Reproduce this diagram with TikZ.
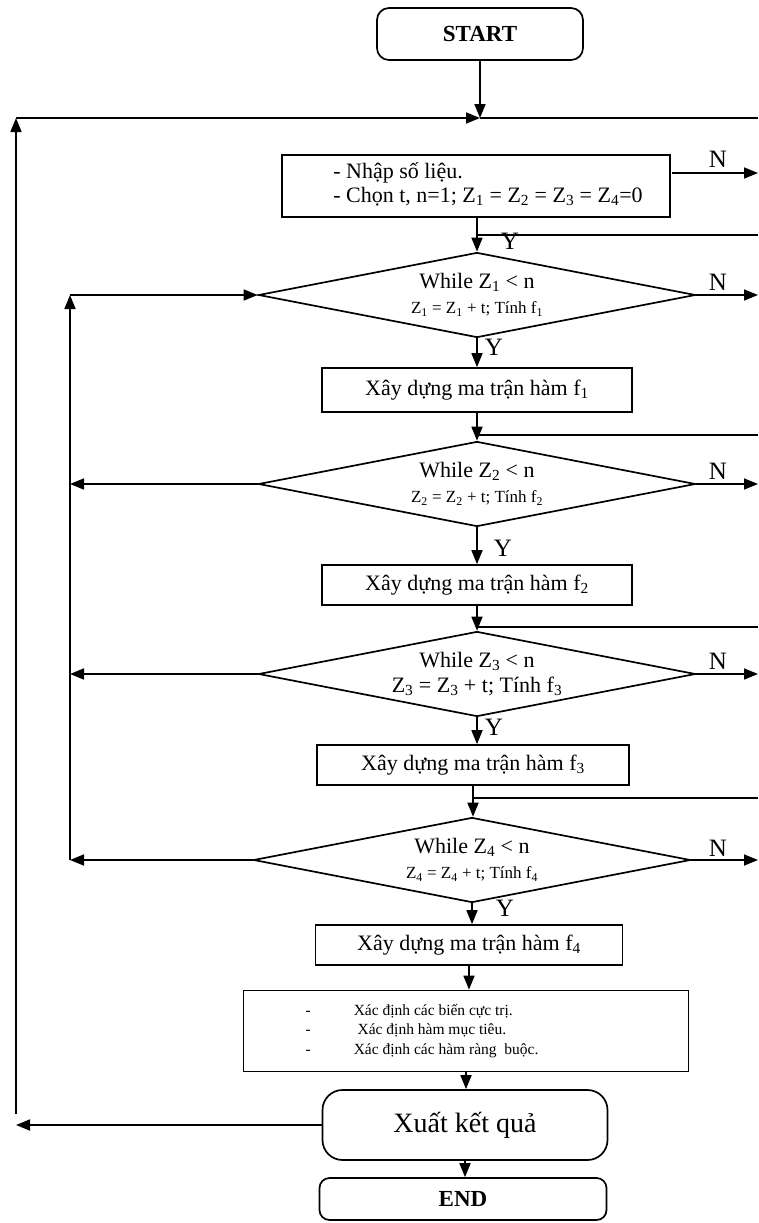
\documentclass[tikz,border=0pt]{standalone}
\usepackage{fontspec}
\setmainfont{Liberation Serif}
\usetikzlibrary{shapes.geometric,arrows.meta}
\tikzset{
  box/.style={draw, line width=1.7pt, inner sep=0pt, font=\fontsize{22}{24}\selectfont},
  term/.style={box, rounded corners=12pt},
  cond/.style={draw, diamond, line width=1.7pt, aspect=5, inner sep=0pt,
    minimum width=437pt, minimum height=85pt, align=center,
    font=\fontsize{22}{25}\selectfont},
  arr/.style={line width=1.7pt, -{Triangle[length=14pt,width=11pt]}},
  ln/.style={line width=1.7pt},
  lbl/.style={font=\fontsize{25}{25}\selectfont, inner sep=1pt},
}
\begin{document}
\begin{tikzpicture}[x=1pt,y=-1pt]
  \useasboundingbox (0,0) rectangle (758,1223);
  % Boxes of the main column
  \node[term, minimum width=206pt, minimum height=52pt] (start) at (480,34) {\fontsize{23}{23}\selectfont\bfseries START};
  \node[box, minimum width=388pt, minimum height=62pt] (input) at (476,186)
    {\hspace{24pt}\begin{tabular}{@{}l@{}}- Nhập số liệu.\\- Chọn t, n=1; Z\textsubscript{1} = Z\textsubscript{2} = Z\textsubscript{3} = Z\textsubscript{4}=0\end{tabular}};
  \node[cond] (while1) at (477,295)
    {While Z\textsubscript{1} < n\\{\fontsize{17}{17}\selectfont Z\textsubscript{1} = Z\textsubscript{1} + t; Tính f\textsubscript{1}}};
  \node[box, minimum width=310pt, minimum height=44pt] (build1) at (477,390) {Xây dựng ma trận hàm f\textsubscript{1}};
  \node[cond] (while2) at (477,484)
    {While Z\textsubscript{2} < n\\{\fontsize{17}{17}\selectfont Z\textsubscript{2} = Z\textsubscript{2} + t; Tính f\textsubscript{2}}};
  \node[box, minimum width=310pt, minimum height=40pt] (build2) at (477,585) {Xây dựng ma trận hàm f\textsubscript{2}};
  \node[cond] (while3) at (477,674)
    {While Z\textsubscript{3} < n\\Z\textsubscript{3} = Z\textsubscript{3} + t; Tính f\textsubscript{3}};
  \node[box, minimum width=312pt, minimum height=40pt] (build3) at (473,765) {Xây dựng ma trận hàm f\textsubscript{3}};
  \node[cond] (while4) at (472,860)
    {While Z\textsubscript{4} < n\\{\fontsize{17}{17}\selectfont Z\textsubscript{4} = Z\textsubscript{4} + t; Tính f\textsubscript{4}}};
  \node[box, minimum width=307pt, minimum height=40pt] (build4) at (469,945) {Xây dựng ma trận hàm f\textsubscript{4}};
  \node[box, minimum width=445pt, minimum height=81pt, font=\fontsize{15.5}{19.5}\selectfont] (define) at (466,1031)
    {\begin{tabular}{@{}l@{\hspace{43pt}}l@{}}-& Xác định các biến cực trị.\\-& \ Xác định hàm mục tiêu.\\-& Xác định các hàm ràng\ \ buộc.\end{tabular}\hspace{88pt}\mbox{}};
  \node[term, rounded corners=20pt, minimum width=285pt, minimum height=70pt] (output) at (465,1125) {\fontsize{28}{28}\selectfont Xuất kết quả};
  \node[term, rounded corners=10pt, minimum width=287pt, minimum height=42pt] (end) at (463,1199) {\fontsize{23}{23}\selectfont\bfseries END};
  % Corner points
  \coordinate (edge) at (758,0);
  \coordinate (top) at (480,118);
  \coordinate (outerTop) at (16,118);
  \coordinate (outerLow) at (16,1114);
  \coordinate (outerBot) at (16,1125);
  \coordinate (innerTop) at (70,295);
  \coordinate (inN) at (672,173);
  % Main column
  \draw[arr] (start) -- (top);
  \draw[ln] (top) -- (top -| edge);
  \draw[arr] (while1.north |- input.south) -- (while1.north);
  \draw[arr] (while1.south) -- (while1.south |- build1.north);
  \draw[arr] (build1.south) -- (build1.south |- while2.north);
  \draw[arr] (while2.south) -- (while2.south |- build2.north);
  \draw[arr] (build2.south) -- (build2.south |- while3.north);
  \draw[arr] (while3.south) -- (while3.south |- build3.north);
  \draw[arr] (build3.south) -- (build3.south |- while4.north);
  \draw[arr] (while4.south) -- (while4.south |- build4.north);
  \draw[arr] (build4.south) -- (build4.south |- define.north);
  \draw[arr] (define.south) -- (define.south |- output.north);
  \draw[arr] (output.south) -- (output.south |- end.north);
  % Lines coming back from the right
  \draw[ln] (while1.north |- 0,235) -- (edge |- 0,235);
  \draw[ln] (build1.south |- 0,435) -- (edge |- 0,435);
  \draw[ln] (build2.south |- 0,627) -- (edge |- 0,627);
  \draw[ln] (build3.south |- 0,798) -- (edge |- 0,798);
  % N exits
  \draw[arr] (inN) -- (inN -| edge);
  \draw[arr] (while1.east) -- (while1.east -| edge);
  \draw[arr] (while2.east) -- (while2.east -| edge);
  \draw[arr] (while3.east) -- (while3.east -| edge);
  \draw[arr] (while4.east) -- (while4.east -| edge);
  \node[lbl] (n0) at (718,159) {N};
  \node[lbl] (n1) at (718,282) {N};
  \node[lbl] (n2) at (718,471) {N};
  \node[lbl] (n3) at (718,661) {N};
  \node[lbl] (n4) at (718,848) {N};
  % Y labels
  \node[lbl] (y0) at (510,241) {Y};
  \node[lbl] (y1) at (494,347) {Y};
  \node[lbl] (y2) at (503,548) {Y};
  \node[lbl] (y3) at (494,727) {Y};
  \node[lbl] (y4) at (505,908) {Y};
  % Inner loop on the left
  \draw[arr] (while2.west) -- (while2.west -| innerTop);
  \draw[arr] (while3.west) -- (while3.west -| innerTop);
  \draw[arr] (while4.west) -- (while4.west -| innerTop);
  \draw[arr] (while4.west -| innerTop) -- (innerTop);
  \draw[arr] (innerTop) -- (while1.west);
  % Outer loop on the left
  \draw[arr] (output.west) -- (outerBot);
  \draw[arr] (outerLow) -- (outerTop);
  \draw[arr] (outerTop) -- (top);
\end{tikzpicture}
\end{document}
